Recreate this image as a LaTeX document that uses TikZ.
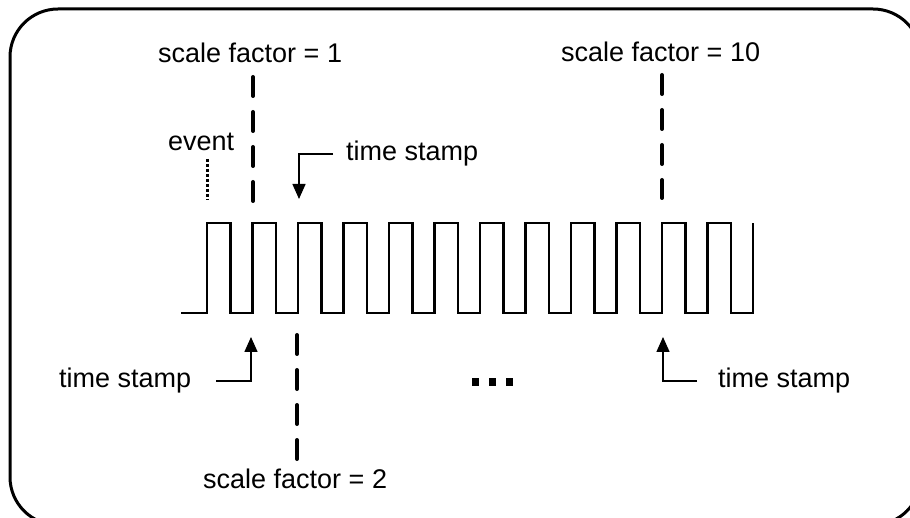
\documentclass[tikz,border=0pt]{standalone}
\usepackage{fontspec}
\setmainfont{Liberation Sans}
\usetikzlibrary{arrows.meta, positioning, calc}

\begin{document}
\begin{tikzpicture}[x=1pt, y=-1pt,
  lbl/.style={inner sep=0pt, anchor=base west, font=\fontsize{27}{32}\selectfont},
  arr/.style={-{Triangle[width=13pt,length=15pt]}, line width=1.5pt},
  marker/.style={line width=4pt, line cap=round, dash pattern=on 19pt off 16pt},
  evt/.style={line width=3pt, dash pattern=on 3pt off 2pt},
  sig/.style={line width=2.7pt, line join=miter},
  frame/.style={line width=3pt, rounded corners=48pt}
]
\useasboundingbox (0,0) rectangle (910,518);
\clip (0,0) rectangle (910,518);
\draw[frame] (10,9) rectangle (921,525);

\node[lbl] (sf1)  at (158,63)  {scale factor = 1};
\node[lbl] (sf10) at (561,62)  {scale factor = 10};
\node[lbl] (sf2)  at (203,488) {scale factor = 2};
\node[lbl] (ev)   at (168,151) {event};
\node[lbl] (tsa)  at (346,161) {time stamp};
\node[lbl] (tsb)  at (59,388)  {time stamp};
\node[lbl] (tsc)  at (718,388) {time stamp};

\coordinate (m1a)  at (253,77);  \coordinate (m1b)  at (253,201);
\coordinate (m10a) at (662,75);  \coordinate (m10b) at (662,198);
\coordinate (m2a)  at (297,335); \coordinate (m2b)  at (297,460);
\coordinate (eva)  at (207,159); \coordinate (evb)  at (207,200);
\coordinate (tipa) at (299,199);
\coordinate (tipb) at (251,337);
\coordinate (tipc) at (663,337);

\draw[sig] (181,313) -- (207,313)
  foreach \i in {1,...,12} { -- ++(0,-90) -- ++(23.5,0) -- ++(0,90) -- ++(22,0) }
  -- ++(0,-90);

\draw[marker] (m1a)  -- (m1b);
\draw[marker] (m10a) -- (m10b);
\draw[marker] (m2a)  -- (m2b);
\draw[evt]    (eva)  -- (evb);

\draw[arr] ($(tsa.west)+(-13,0)$) -| (tipa);
\draw[arr] ($(tsb.east)+(25,0)$)  -| (tipb);
\draw[arr] ($(tsc.west)+(-21,0)$) -| (tipc);

\foreach \x in {475,492,509}
  \fill (\x-3.5,378.5) rectangle ++(7,7);
\end{tikzpicture}
\end{document}
